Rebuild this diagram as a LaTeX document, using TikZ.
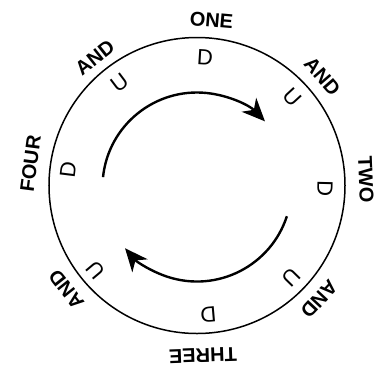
\documentclass[tikz,border=0pt]{standalone}
\usepackage{fontspec}
\setmainfont{Liberation Sans}
\usetikzlibrary{arrows.meta,calc}
\begin{document}
\begin{tikzpicture}[x=1pt,y=1pt,
  outer/.style={font=\bfseries\fontsize{20}{24}\selectfont, inner sep=0pt, anchor=center},
  inner/.style={font=\fontsize{22}{26}\selectfont, inner sep=0pt, anchor=center},
  ring/.style={draw, line width=1.5pt, circle, inner sep=0pt, minimum size=296pt},
  flow/.style={line width=2.4pt, -{Stealth[length=23pt,width=20pt,inset=7pt]}}]
\useasboundingbox (-197,-182.5) rectangle (188,185.5);
\node[ring] (rim) at (0,0) {};
% outer labels
\node[outer, rotate=-5] (one) at (85:166pt) {ONE};
\node[outer, rotate=-49] (and1) at (41:166pt) {AND};
\node[outer, rotate=-88] (two) at (2:169pt) {TWO};
\node[outer, rotate=-133] (and2) at (-43:167pt) {AND};
\node[outer, rotate=-178] (three) at (-88:170pt) {THREE};
\node[outer, rotate=-231.5] (and3) at (-141.5:167pt) {AND};
\node[outer, rotate=82.5] (four) at (172.5:168pt) {FOUR};
\node[outer, rotate=38.5] (and4) at (128.5:164pt) {AND};
% inner labels
\node[inner, rotate=-3.6] (d1) at (86.4:128pt) {D};
\node[inner, rotate=-47.5] (u1) at (42.5:130pt) {U};
\node[inner, rotate=-91.3] (d2) at (-1.3:128pt) {D};
\node[inner, rotate=-134.4] (u2) at (-44.4:132pt) {U};
\node[inner, rotate=-175] (d3) at (-85:130pt) {D};
\node[inner, rotate=-230] (u3) at (-140:132pt) {U};
\node[inner, rotate=83] (d4) at (173:130pt) {D};
\node[inner, rotate=37] (u4) at (127:129pt) {U};
% circular arrows
\coordinate (c) at (0,-1.5);
\coordinate (s1) at ($(c)+(174:94.5pt)$);
\coordinate (s2) at ($(c)+(-18:94.5pt)$);
\draw[flow] (s1) arc[start angle=174, end angle=44, radius=94.5pt];
\draw[flow] (s2) arc[start angle=-18, end angle=-139.6, radius=94.5pt];
\end{tikzpicture}
\end{document}
